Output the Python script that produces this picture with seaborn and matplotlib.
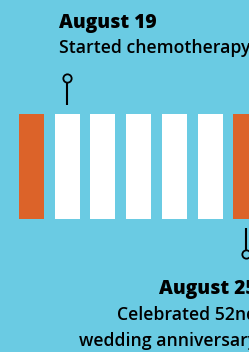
import matplotlib
matplotlib.use("Agg")
import matplotlib.pyplot as plt
import pandas as pd
import seaborn as sns
from matplotlib import transforms

# one bar per block of the week, orange ones mark the rest days
blocks = ["1", "2", "3", "4", "5", "6", "7"]
heights = [1, 1, 1, 1, 1, 1, 1]
kinds = ["rest", "chemo", "chemo", "chemo", "chemo", "chemo", "rest"]

event_blocks = [1, 6]
event_dates = ["August 19", "August 25"]
event_notes = ["Started chemotherapy", "Celebrated 52nd\nwedding anniversary"]

bg = "#6acbe3"
orange = "#dc6329"

W, H = 249, 352

fig = plt.figure(figsize=(W / 100, H / 100), dpi=100)
fig.patch.set_facecolor(bg)
ax = fig.add_axes([0, 0, 1, 1])

df = pd.DataFrame({"block": blocks, "height": heights, "kind": kinds})
sns.barplot(data=df, x="block", y="height", hue="kind",
            palette={"rest": orange, "chemo": "white"}, saturation=1,
            width=0.7, dodge=False, legend=False, ax=ax)

ax.set_xlim(-0.882, 6.09)
ax.set_ylim(-1.267, 2.086)
ax.axis("off")


def fy(px):
    # pixel from top -> figure fraction
    return 1 - px / H


trans = transforms.blended_transform_factory(ax.transData, fig.transFigure)
note_kw = dict(fontsize=12.7, fontweight="semibold", family="Open Sans",
               va="baseline")
date_kw = dict(fontsize=13.8, fontweight="black", family="Open Sans",
               va="baseline")

# top event
x0 = event_blocks[0]
ax.plot([x0, x0], [fy(105), fy(82)], color="black", lw=1.5, transform=trans,
        solid_capstyle="butt")
ax.plot([x0], [fy(78)], marker="o", ms=6, mfc=bg, mec="black", mew=1.3,
        transform=trans)
fig.text(59 / W, fy(28), event_dates[0], ha="left", **date_kw)
fig.text(59 / W, fy(53), event_notes[0], ha="left", **note_kw)

# bottom event
x1 = event_blocks[1]
ax.plot([x1, x1], [fy(228), fy(251)], color="black", lw=1.5, transform=trans,
        solid_capstyle="butt")
ax.plot([x1], [fy(254)], marker="o", ms=6, mfc=bg, mec="black", mew=1.3,
        transform=trans)
fig.text(257 / W, fy(294), event_dates[1], ha="right", **date_kw)
lines = event_notes[1].split("\n")
fig.text(257 / W, fy(320), lines[0], ha="right", **note_kw)
fig.text(257 / W, fy(346), lines[1], ha="right", **note_kw)

fig.savefig("out.png", dpi=100, facecolor=bg)
